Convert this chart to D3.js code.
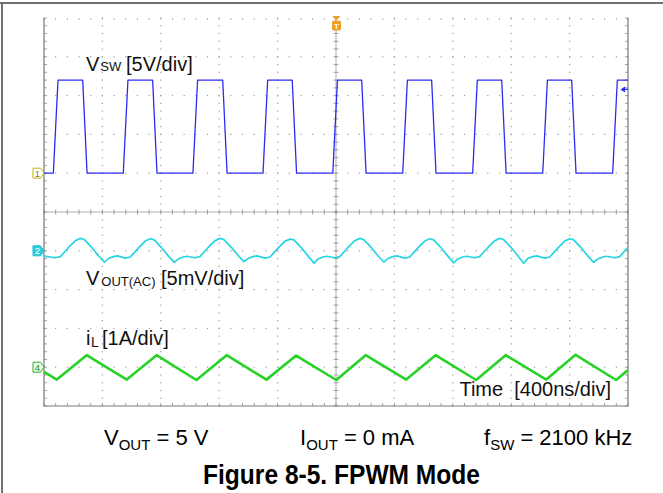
<!DOCTYPE html>
<html>
<head>
<meta charset="utf-8">
<script src="https://cdn.jsdelivr.net/npm/d3@7"></script>
<style>
  body { margin: 0; background: #fff; }
  text { font-family: "Liberation Sans", Arial, sans-serif; }
</style>
</head>
<body>
<svg id="chart"></svg>
<script>
// time axis: 400 ns/div, 10 div
var timeRange = [0, 4000];

// CH1 switch node voltage (V), 5 V/div
var vswTime = [0, 64, 96, 265, 295, 543, 575, 744, 774, 1020, 1052, 1224, 1254, 1500, 1532, 1700, 1730,
  1978, 2010, 2176, 2206, 2457, 2489, 2655, 2685, 2936, 2968, 3135, 3165, 3416, 3448, 3614, 3644, 3895, 3927, 4000];
var vswVolt = [0, 0, 12, 12, 0, 0, 12, 12, 0, 0, 12, 12, 0, 0, 12, 12, 0,
  0, 12, 12, 0, 0, 12, 12, 0, 0, 12, 12, 0, 0, 12, 12, 0, 0, 12, 12];

// CH2 output ripple, AC coupled (mV), 5 mV/div
var voutTime = [0,
  78, 112, 167, 215, 249, 276, 324, 372, 413, 441, 475, 502,
  557, 591, 646, 694, 728, 755, 803, 851, 892, 920, 954, 981,
  1034, 1068, 1123, 1171, 1205, 1232, 1280, 1328, 1369, 1397, 1431, 1458,
  1514, 1548, 1603, 1651, 1685, 1712, 1760, 1808, 1849, 1877, 1911, 1938,
  1992, 2026, 2081, 2129, 2163, 2190, 2238, 2286, 2327, 2355, 2389, 2416,
  2471, 2505, 2560, 2608, 2642, 2669, 2717, 2765, 2806, 2834, 2868, 2895,
  2950, 2984, 3039, 3087, 3121, 3148, 3196, 3244, 3285, 3313, 3347, 3374,
  3430, 3464, 3519, 3567, 3601, 3628, 3676, 3724, 3765, 3793, 3827, 3854,
  3909, 3943, 4000];
var voutMv = [-0.68,
  -0.9, -0.75, 0.4, 1.3, 1.6, 1.45, 0.5, -0.6, -1.45, -1.0, -0.75, -0.65,
  -0.95, -0.8, 0.35, 1.25, 1.55, 1.4, 0.45, -0.65, -1.5, -1.05, -0.8, -0.7,
  -0.9, -0.75, 0.4, 1.3, 1.6, 1.45, 0.5, -0.55, -1.4, -1.0, -0.75, -0.65,
  -0.95, -0.8, 0.35, 1.25, 1.5, 1.4, 0.45, -0.65, -1.6, -1.05, -0.8, -0.7,
  -0.9, -0.75, 0.4, 1.3, 1.6, 1.45, 0.5, -0.6, -1.45, -1.0, -0.75, -0.65,
  -0.95, -0.8, 0.35, 1.25, 1.55, 1.4, 0.45, -0.65, -1.55, -1.05, -0.8, -0.7,
  -0.9, -0.75, 0.4, 1.3, 1.6, 1.45, 0.5, -0.6, -1.6, -1.0, -0.75, -0.65,
  -0.95, -0.8, 0.35, 1.25, 1.55, 1.4, 0.45, -0.65, -1.5, -1.05, -0.8, -0.7,
  -0.9, -0.75, 0.45];

// CH4 inductor current (A), 1 A/div
var ilTime = [0, 88, 292, 567, 771, 1044, 1251, 1524, 1727, 2002, 2203, 2481, 2682, 2960, 3162, 3440, 3641, 3919, 4000];
var ilAmp = [-0.12, -0.32, 0.31, -0.32, 0.31, -0.33, 0.31, -0.32, 0.30, -0.33, 0.31, -0.32, 0.31, -0.33, 0.31, -0.32, 0.32, -0.33, -0.07];

var width = 663, height = 493;
var pL = 44, pR = 628, pT = 18, pB = 406;

var svg = d3.select("#chart")
    .attr("width", width)
    .attr("height", height);

// page frame
svg.append("line").attr("x1", 0).attr("y1", 3).attr("x2", width).attr("y2", 3)
    .attr("stroke", "#707070").attr("stroke-width", 2);
svg.append("line").attr("x1", 2).attr("y1", 3).attr("x2", 2).attr("y2", height)
    .attr("stroke", "#707070").attr("stroke-width", 2);

var x = d3.scaleLinear().domain(timeRange).range([pL, pR]);
var y = d3.scaleLinear().domain([-5, 5]).range([pB, pT]);   // divisions
var divX = (pR - pL) / 10, divY = (pB - pT) / 10;

var grid = svg.append("g");

// dotted graticule
d3.range(1, 10).forEach(function(k) {
    if (k == 5) return;
    var gx = pL + k * divX;
    d3.range(0, 51).forEach(function(j) {
        grid.append("rect").attr("x", gx - 0.6).attr("y", pT + j * divY / 5 - 0.6)
            .attr("width", 1.2).attr("height", 1.2).attr("fill", "#9c9c9c");
    });
    var gy = y(k - 5);
    d3.range(0, 51).forEach(function(j) {
        grid.append("rect").attr("x", pL + j * divX / 5 - 0.6).attr("y", gy - 0.6)
            .attr("width", 1.2).attr("height", 1.2).attr("fill", "#9c9c9c");
    });
});
// top row dots with ticks
d3.range(0, 51).forEach(function(j) {
    grid.append("line").attr("x1", pL + j * divX / 5).attr("x2", pL + j * divX / 5)
        .attr("y1", pT).attr("y2", pT + 2).attr("stroke", "#b0b0b0").attr("stroke-width", 1);
});

// center axes with minor ticks
grid.append("line").attr("x1", pL).attr("x2", pR).attr("y1", y(0)).attr("y2", y(0))
    .attr("stroke", "#9a9a9a").attr("stroke-width", 0.8);
grid.append("line").attr("x1", x(2000)).attr("x2", x(2000)).attr("y1", pT).attr("y2", pB)
    .attr("stroke", "#9a9a9a").attr("stroke-width", 0.8);
d3.range(0, 51).forEach(function(j) {
    var tx = pL + j * divX / 5, ty = pT + j * divY / 5;
    grid.append("line").attr("x1", tx).attr("x2", tx).attr("y1", y(0) - 2.5).attr("y2", y(0) + 2.5)
        .attr("stroke", "#8a8a8a").attr("stroke-width", 0.8);
    grid.append("line").attr("x1", x(2000) - 2.5).attr("x2", x(2000) + 2.5).attr("y1", ty).attr("y2", ty)
        .attr("stroke", "#8a8a8a").attr("stroke-width", 0.8);
    // border ticks
    grid.append("line").attr("x1", pL).attr("x2", pL + 3).attr("y1", ty).attr("y2", ty)
        .attr("stroke", "#8a8a8a").attr("stroke-width", 0.8);
    grid.append("line").attr("x1", pR - 3).attr("x2", pR).attr("y1", ty).attr("y2", ty)
        .attr("stroke", "#8a8a8a").attr("stroke-width", 0.8);
    grid.append("line").attr("x1", tx).attr("x2", tx).attr("y1", pB - 3).attr("y2", pB)
        .attr("stroke", "#8a8a8a").attr("stroke-width", 0.8);
});

// border (left, right, bottom)
grid.append("path")
    .attr("d", "M" + pL + "," + pT + "V" + pB + "H" + pR + "V" + pT)
    .attr("fill", "none").attr("stroke", "#7a7a7a").attr("stroke-width", 1.2);

// traces
function trace(times, vals, offset, perDiv, color, w) {
    var pts = times.map(function(t, i) { return [t, vals[i]]; });
    var line = d3.line()
        .x(function(d) { return x(d[0]); })
        .y(function(d) { return y(offset + d[1] / perDiv); });
    svg.append("path").datum(pts)
        .attr("d", line)
        .attr("fill", "none")
        .attr("stroke", color)
        .attr("stroke-width", w)
        .attr("stroke-linejoin", "round");
}
trace(vswTime, vswVolt, 1, 5, "#2c2cf2", 1.3);
trace(voutTime, voutMv, -1, 5, "#26d4e2", 1.7);
trace(ilTime, ilAmp, -4, 1, "#26d226", 2.6);

// channel markers
function marker(offset, label, stroke, fill, txt) {
    var my = y(offset), mx = 33;
    svg.append("path")
        .attr("d", "M" + mx + "," + (my - 5) + "h7.5l3.5,5l-3.5,5h-7.5z")
        .attr("fill", fill).attr("stroke", stroke).attr("stroke-width", 1);
    svg.append("text").attr("x", mx + 4.5).attr("y", my + 3.5)
        .attr("text-anchor", "middle").attr("font-size", 9.5).attr("fill", txt).text(label);
}
marker(1, "1", "#c4b400", "#fff", "#8a8000");
marker(-1, "2", "#20c0d8", "#30cce0", "#fff");
marker(-4, "4", "#30b030", "#eaffea", "#208a20");

// trigger position marker
var tx0 = x(2000) + 0.5;
svg.append("path").attr("d", "M" + (tx0 - 4) + ",16h8l-4,4z").attr("fill", "#f0a020");
svg.append("rect").attr("x", tx0 - 4.5).attr("y", 20.5).attr("width", 9).attr("height", 10).attr("rx", 2)
    .attr("fill", "#f0a020");
svg.append("text").attr("x", tx0).attr("y", 28.5).attr("text-anchor", "middle")
    .attr("font-size", 8).attr("font-weight", "bold").attr("fill", "#fff").text("T");

// trigger level arrow
var ay = y(1 + 10.8 / 5);
svg.append("path").attr("d", "M620.5," + ay + "l4.5,-3v6z").attr("fill", "#2c2cf2");
svg.append("line").attr("x1", 624).attr("x2", 628).attr("y1", ay).attr("y2", ay)
    .attr("stroke", "#2c2cf2").attr("stroke-width", 1.2);

// trace labels
var t1 = svg.append("text").attr("x", 86).attr("y", 71).attr("font-size", 20).attr("fill", "#111");
t1.append("tspan").text("V");
t1.append("tspan").attr("font-size", 13).attr("dx", 1).text("SW");
t1.append("tspan").attr("x", 126).text("[5V/div]");

var t2 = svg.append("text").attr("x", 86).attr("y", 285).attr("font-size", 20).attr("fill", "#111");
t2.append("tspan").text("V");
t2.append("tspan").attr("font-size", 13).attr("dx", 2).attr("dy", 1).text("OUT(AC)");
t2.append("tspan").attr("x", 161).attr("dy", -1).text("[5mV/div]");

var t3 = svg.append("text").attr("x", 86).attr("y", 345).attr("font-size", 20).attr("fill", "#111");
t3.append("tspan").text("i");
t3.append("tspan").attr("font-size", 14).attr("dx", 0.5).attr("dy", 2).text("L");
t3.append("tspan").attr("x", 102).attr("dy", -2).text("[1A/div]");

svg.append("text").attr("x", 611).attr("y", 396).attr("text-anchor", "end")
    .attr("font-size", 20).attr("fill", "#111").attr("xml:space", "preserve")
    .style("white-space", "pre").text("Time  [400ns/div]");

// conditions
function cond(x0, main, sub, rest) {
    var t = svg.append("text").attr("x", x0).attr("y", 445).attr("font-size", 22).attr("fill", "#000");
    t.append("tspan").text(main);
    t.append("tspan").attr("font-size", 15).attr("dy", 5).text(sub);
    t.append("tspan").attr("dy", -5).text(rest);
}
cond(104, "V", "OUT", " = 5 V");
cond(300, "I", "OUT", " = 0 mA");
cond(484, "f", "SW", " = 2100 kHz");

svg.append("text").attr("x", 203).attr("y", 484).attr("font-size", 28).attr("font-weight", "bold")
    .attr("textLength", 277).attr("lengthAdjust", "spacingAndGlyphs")
    .attr("fill", "#000").text("Figure 8-5. FPWM Mode");
</script>
</body>
</html>
